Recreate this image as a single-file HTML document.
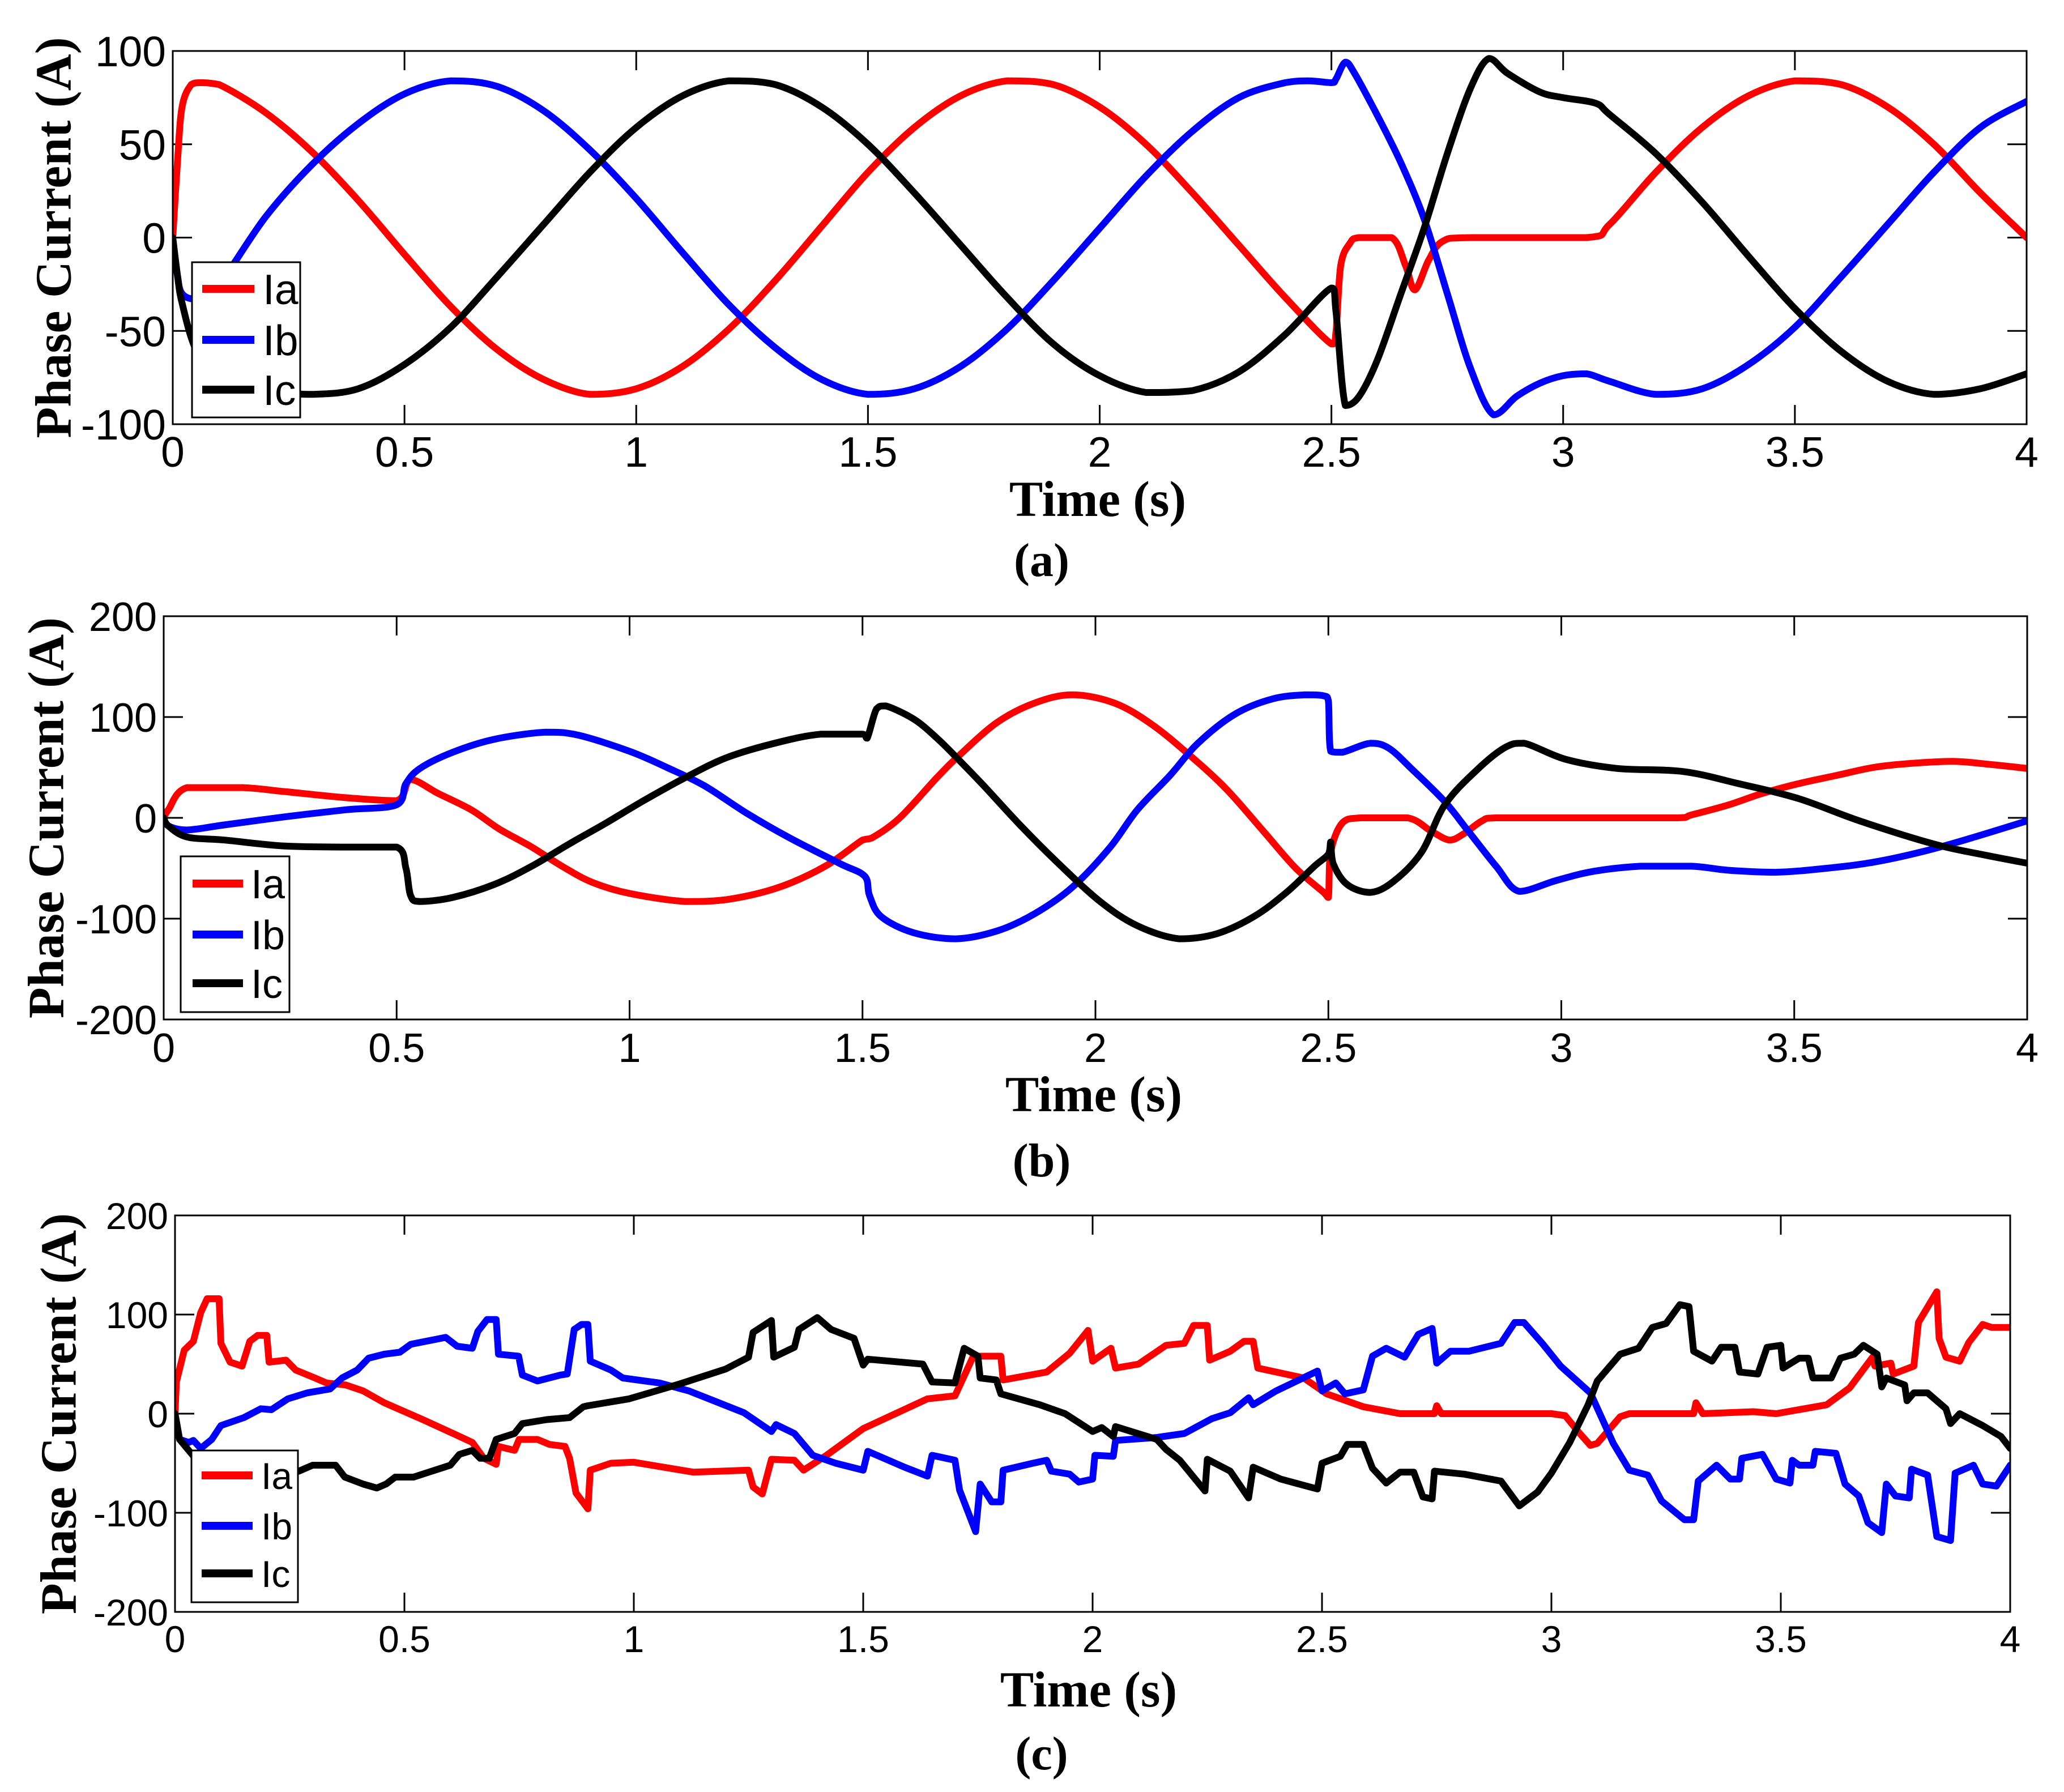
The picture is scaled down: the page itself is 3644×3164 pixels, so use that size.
<!DOCTYPE html>
<html><head><meta charset="utf-8"><style>
html,body{margin:0;padding:0;background:#fff;}
svg{display:block;}
.tk{font-family:"Liberation Sans",Arial,sans-serif;fill:#000;}
.ttl{font-family:"Liberation Serif","Times New Roman",serif;font-weight:bold;fill:#000;}
</style></head><body>
<svg id="fig" xmlns="http://www.w3.org/2000/svg" width="3644" height="3164" viewBox="0 0 3644 3164">
<rect x="0" y="0" width="3644" height="3164" fill="#fff"/>
</svg>
<script>
// ---------- Panel (a) data ----------
const aIaT=[0,0.01,0.02,0.04,0.06,0.1,0.2,0.3,0.4,0.5,0.6,0.7,0.8,0.9,1.0,1.1,1.2,1.3,1.4,1.5,1.6,1.7,1.8,1.9,2.0,2.1,2.2,2.3,2.4,2.5,2.51,2.52,2.54,2.56,2.63,2.66,2.68,2.71,2.74,2.8,3.05,3.1,3.2,3.3,3.4,3.5,3.6,3.7,3.8,3.9,4.0];
const aIaV=[0,40,70,82,83,82,67,46,20,-9,-37,-60,-76,-84,-81,-69,-49,-23,6,35,59,76,84,82,70,50,24,-4,-32,-57,-50,-15,-3,0,0,-15,-28,-12,-2,0,0,7,35,59,76,84,82,70,50,24,0];
const aIbT=[0,0.01,0.02,0.05,0.1,0.2,0.3,0.4,0.5,0.6,0.7,0.8,0.9,1.0,1.1,1.2,1.3,1.4,1.5,1.6,1.7,1.8,1.9,2.0,2.1,2.2,2.3,2.4,2.45,2.5,2.51,2.53,2.55,2.6,2.65,2.7,2.75,2.8,2.85,2.9,2.95,3.0,3.05,3.1,3.2,3.3,3.4,3.5,3.6,3.7,3.8,3.9,4.0];
const aIbV=[0,-20,-30,-33,-25,11,39,61,77,84,81,68,47,21,-8,-36,-59,-76,-84,-81,-69,-49,-23,5,33,57,75,83,84,83,85,94,88,65,40,10,-30,-70,-95,-85,-78,-74,-73,-77,-84,-81,-68,-48,-21,7,35,59,73];
const aIcT=[0,0.01,0.02,0.05,0.1,0.15,0.2,0.3,0.4,0.5,0.6,0.7,0.8,0.9,1.0,1.1,1.2,1.3,1.4,1.5,1.6,1.7,1.8,1.9,2.0,2.1,2.2,2.3,2.4,2.5,2.51,2.53,2.56,2.6,2.65,2.7,2.75,2.8,2.84,2.88,2.95,3.0,3.07,3.1,3.2,3.3,3.4,3.5,3.6,3.7,3.8,3.9,4.0];
const aIcV=[0,-20,-35,-60,-75,-82,-83,-84,-81,-68,-48,-21,7,35,59,76,84,82,70,50,24,-4,-32,-57,-74,-83,-82,-72,-52,-27,-40,-90,-85,-65,-30,5,45,80,96,88,78,75,72,66,45,19,-10,-38,-61,-77,-84,-81,-73];
const aYTicks=[100,50,0,-50,-100];
// ---------- Panel (b) data ----------
const bIaT=[0,0.01,0.05,0.17,0.26,0.39,0.5,0.53,0.59,0.66,0.72,0.79,0.855,0.92,1.0,1.12,1.21,1.32,1.42,1.5,1.52,1.58,1.66,1.71,1.79,1.87,1.95,2.04,2.12,2.2,2.28,2.36,2.43,2.49,2.5,2.505,2.53,2.57,2.67,2.72,2.76,2.79,2.83,2.86,3.25,3.28,3.36,3.43,3.51,3.59,3.67,3.75,3.84,3.92,4.0];
const bIaV=[0,8,30,30,26,20,17,38,24,8,-11,-29,-48,-64,-75,-83,-81,-69,-48,-22,-20,0,40,63,95,114,122,114,93,63,29,-13,-50,-74,-79,-34,-5,0,0,-13,-22,-16,-3,0,0,3,13,24,34,42,50,54,56,53,49];
const bIbT=[0,0.01,0.05,0.13,0.26,0.39,0.5,0.52,0.55,0.62,0.71,0.82,0.89,1.0,1.08,1.16,1.25,1.34,1.45,1.505,1.515,1.54,1.61,1.7,1.79,1.87,1.95,2.03,2.09,2.16,2.22,2.3,2.38,2.45,2.49,2.5,2.505,2.53,2.59,2.63,2.68,2.75,2.8,2.86,2.91,2.99,3.07,3.17,3.28,3.36,3.46,3.57,3.67,3.78,3.88,4.0];
const bIbV=[0,-8,-12,-7,1,8,13,34,49,65,78,85,82,66,50,32,5,-19,-45,-58,-77,-98,-114,-120,-112,-95,-69,-30,8,42,74,103,118,122,121,116,66,65,74,69,48,16,-13,-48,-73,-62,-53,-48,-48,-52,-54,-50,-44,-33,-20,-3];
const bIcT=[0,0.01,0.05,0.13,0.26,0.39,0.5,0.52,0.53,0.55,0.62,0.71,0.79,0.87,0.95,1.03,1.12,1.21,1.32,1.41,1.5,1.51,1.53,1.55,1.61,1.66,1.71,1.76,1.84,1.92,2.01,2.09,2.18,2.26,2.34,2.41,2.47,2.5,2.505,2.51,2.54,2.59,2.64,2.7,2.75,2.82,2.88,2.92,3.01,3.12,3.26,3.38,3.51,3.64,3.8,3.91,4.0];
const bIcV=[0,-8,-19,-22,-28,-29,-29,-50,-77,-83,-79,-66,-48,-26,-5,17,40,60,75,83,83,79,108,111,98,79,56,32,-8,-45,-83,-107,-120,-115,-98,-74,-48,-36,-24,-45,-66,-74,-63,-34,13,48,70,74,58,49,46,34,19,-3,-26,-37,-45];
const bYTicks=[200,100,0,-100,-200];
// ---------- Panel (c) data ----------
const cIaT=[0,0.003,0.02,0.04,0.056,0.07,0.096,0.1,0.12,0.146,0.163,0.18,0.2,0.205,0.242,0.263,0.305,0.33,0.372,0.41,0.456,0.54,0.606,0.648,0.673,0.7,0.705,0.74,0.75,0.79,0.816,0.85,0.86,0.874,0.9,0.905,0.95,1.0,1.13,1.25,1.26,1.28,1.3,1.35,1.37,1.42,1.5,1.64,1.7,1.74,1.8,1.805,1.9,1.95,1.99,2.0,2.04,2.05,2.1,2.16,2.2,2.22,2.25,2.255,2.3,2.33,2.35,2.36,2.46,2.51,2.59,2.67,2.745,2.75,2.76,3.0,3.03,3.06,3.085,3.1,3.15,3.17,3.31,3.315,3.33,3.44,3.49,3.6,3.65,3.7,3.705,3.74,3.745,3.79,3.8,3.84,3.845,3.86,3.89,3.91,3.94,3.96,4.0];
const cIaV=[0,32,64,73,102,116,116,71,52,48,73,79,79,52,54,44,36,31,29,23,11,-6,-20,-29,-45,-51,-33,-37,-26,-26,-31,-33,-45,-80,-96,-57,-50,-49,-59,-57,-74,-81,-46,-47,-57,-42,-15,15,18,58,58,34,42,61,84,53,66,46,50,69,71,89,89,54,63,73,73,46,36,20,7,0,0,8,0,0,-2,-19,-32,-30,-3,0,0,11,0,2,0,9,26,57,48,51,40,48,92,123,76,57,53,72,90,87,87];
const cIbT=[0,0.01,0.03,0.04,0.056,0.08,0.1,0.15,0.187,0.21,0.246,0.288,0.338,0.364,0.397,0.422,0.456,0.49,0.514,0.59,0.615,0.648,0.66,0.68,0.7,0.705,0.749,0.757,0.79,0.84,0.855,0.87,0.886,0.9,0.905,0.95,0.976,1.056,1.12,1.24,1.3,1.31,1.35,1.39,1.44,1.5,1.51,1.59,1.64,1.65,1.7,1.71,1.745,1.755,1.78,1.8,1.805,1.87,1.9,1.91,1.95,1.97,2.0,2.005,2.045,2.05,2.14,2.2,2.26,2.3,2.34,2.35,2.4,2.49,2.5,2.53,2.55,2.59,2.61,2.64,2.68,2.71,2.74,2.75,2.78,2.82,2.89,2.92,2.94,2.98,3.02,3.085,3.135,3.17,3.21,3.24,3.29,3.31,3.32,3.36,3.39,3.41,3.415,3.46,3.49,3.52,3.525,3.54,3.57,3.575,3.62,3.64,3.67,3.69,3.72,3.73,3.75,3.78,3.785,3.82,3.84,3.87,3.88,3.92,3.94,3.97,4.0];
const cIbV=[0,-26,-29,-27,-35,-26,-12,-4,5,4,15,21,25,36,44,56,60,62,70,77,68,66,83,95,95,60,58,39,33,39,40,85,90,90,53,44,36,31,23,1,-18,-11,-20,-42,-50,-57,-38,-54,-63,-42,-47,-77,-119,-71,-89,-89,-57,-50,-47,-58,-61,-69,-66,-42,-43,-27,-24,-20,-5,1,16,9,23,43,23,31,20,24,58,66,57,80,86,51,63,63,71,92,92,71,48,21,-30,-57,-62,-88,-107,-107,-68,-52,-66,-66,-45,-41,-66,-70,-47,-52,-52,-38,-40,-71,-83,-110,-120,-71,-83,-85,-56,-62,-124,-128,-60,-52,-71,-73,-52];
const cIcT=[0,0.01,0.037,0.06,0.1,0.2,0.27,0.3,0.35,0.37,0.41,0.44,0.46,0.48,0.52,0.56,0.6,0.62,0.648,0.665,0.685,0.7,0.74,0.757,0.81,0.86,0.89,0.9,0.99,1.1,1.2,1.25,1.26,1.3,1.305,1.35,1.36,1.4,1.43,1.48,1.5,1.51,1.63,1.65,1.7,1.72,1.75,1.755,1.79,1.8,1.885,1.94,2.0,2.02,2.045,2.05,2.14,2.16,2.19,2.245,2.25,2.3,2.34,2.35,2.41,2.49,2.5,2.54,2.555,2.59,2.61,2.64,2.67,2.7,2.72,2.74,2.745,2.81,2.89,2.93,2.97,3.0,3.04,3.08,3.1,3.15,3.19,3.22,3.25,3.28,3.3,3.31,3.35,3.37,3.4,3.41,3.45,3.47,3.5,3.505,3.54,3.56,3.57,3.61,3.63,3.66,3.68,3.71,3.72,3.73,3.77,3.775,3.79,3.82,3.86,3.87,3.89,3.94,3.98,4.0];
const cIcV=[0,-26,-41,-55,-60,-62,-58,-52,-52,-64,-71,-75,-71,-64,-64,-58,-52,-41,-37,-45,-45,-26,-20,-10,-6,-4,7,8,15,30,45,57,82,94,57,67,85,97,85,76,49,55,50,32,31,66,58,36,34,20,9,0,-18,-14,-23,-13,-26,-36,-47,-78,-46,-58,-85,-54,-66,-76,-50,-43,-31,-31,-55,-70,-59,-59,-84,-86,-58,-61,-68,-93,-79,-60,-29,9,33,60,66,87,91,110,108,63,53,67,67,42,40,67,69,46,56,56,36,36,56,60,69,60,27,36,29,13,21,21,5,-10,0,-12,-23,-35];
const cYTicks=[200,100,0,-100,-200];
const xTicks=[0,0.5,1,1.5,2,2.5,3,3.5,4];
const xTickLabels=["0","0.5","1","1.5","2","2.5","3","3.5","4"];
const seriesNames=["Ia","Ib","Ic"];
const seriesColors=["#ff0000","#0000ff","#000000"];

const NS="http://www.w3.org/2000/svg";
const fig=document.getElementById('fig');
function mk(tag,attrs,parent){const e=document.createElementNS(NS,tag);for(const k in attrs)e.setAttribute(k,attrs[k]);(parent||fig).appendChild(e);return e;}

function smoothPath(P){
  let d='M'+P[0][0].toFixed(1)+','+P[0][1].toFixed(1);
  const clamp=(v,a,b)=>Math.max(Math.min(a,b),Math.min(Math.max(a,b),v));
  for(let i=0;i<P.length-1;i++){
    const p0=P[Math.max(0,i-1)],p1=P[i],p2=P[i+1],p3=P[Math.min(P.length-1,i+2)];
    let c1x=p1[0]+(p2[0]-p0[0])/6,c1y=p1[1]+(p2[1]-p0[1])/6;
    let c2x=p2[0]-(p3[0]-p1[0])/6,c2y=p2[1]-(p3[1]-p1[1])/6;
    c1x=clamp(c1x,p1[0],p2[0]);c2x=clamp(c2x,p1[0],p2[0]);
    c1y=clamp(c1y,p1[1],p2[1]);c2y=clamp(c2y,p1[1],p2[1]);
    d+=`C${c1x.toFixed(1)},${c1y.toFixed(1)} ${c2x.toFixed(1)},${c2y.toFixed(1)} ${p2[0].toFixed(1)},${p2[1].toFixed(1)}`;
  }
  return d;
}

const panels=[
 {id:'a',L:305,R:3578,T:90,B:749,ymin:-100,ymax:100,yt:aYTicks,fs:75,tickBase:824,ylx:95,timeX:1938,timeY:911,capY:1017,smooth:true,
  series:[[aIaT,aIaV],[aIbT,aIbV],[aIcT,aIcV]],leg:{x:339,y:463,w:191,h:274,l1:357,l2:449,tx:464,rows:[510,600,688]}},
 {id:'b',L:289,R:3579,T:1088,B:1800,ymin:-200,ymax:200,yt:bYTicks,fs:72,tickBase:1875,ylx:82,timeX:1931,timeY:1962,capY:2077,smooth:true,
  series:[[bIaT,bIaV],[bIbT,bIbV],[bIcT,bIcV]],leg:{x:319,y:1512,w:192,h:275,l1:340,l2:429,tx:443,rows:[1560,1650,1736]}},
 {id:'c',L:309,R:3549,T:2146,B:2846,ymin:-200,ymax:200,yt:cYTicks,fs:66,tickBase:2917,ylx:104,timeX:1922,timeY:3013,capY:3124,smooth:false,
  series:[[cIaT,cIaV],[cIbT,cIbV],[cIcT,cIcV]],leg:{x:338,y:2561,w:188,h:268,l1:356,l2:446,tx:461,rows:[2605,2694,2778]}}
];

panels.forEach(p=>{
  const sx=t=>p.L+(t-0)/(4-0)*(p.R-p.L);
  const sy=v=>p.B-(v-p.ymin)/(p.ymax-p.ymin)*(p.B-p.T);
  const g=mk('g',{});
  
  
  const cp=mk('clipPath',{id:'clip'+p.id},g);
  mk('rect',{x:p.L,y:p.T,width:p.R-p.L,height:p.B-p.T},cp);
  const tl=34;
  xTicks.forEach((t,i)=>{
    const x=sx(t);
    const tk=mk('path',{d:`M${x},${p.B}V${p.B-tl}M${x},${p.T}V${p.T+tl}`,stroke:'#000','stroke-width':3},g);
    
    
    const lb=mk('text',{x:x,y:p.tickBase,'text-anchor':'middle','font-size':p.fs,class:'tk'},g);
    
    
    lb.textContent=xTickLabels[i];
  });
  p.yt.forEach(v=>{
    const y=sy(v);
    const tk=mk('path',{d:`M${p.L},${y}H${p.L+tl}M${p.R},${y}H${p.R-tl}`,stroke:'#000','stroke-width':3},g);
    
    
    const lb=mk('text',{x:p.L-12,y:y+p.fs*0.36,'text-anchor':'end','font-size':p.fs,class:'tk'},g);
    
    
    lb.textContent=String(v);
  });
  p.series.forEach((s,k)=>{
    const [T,V]=s;
    const pts=T.map((t,i)=>[sx(t),sy(V[i])]);
    let d;
    if(p.smooth){d=smoothPath(pts);}
    else{d='';pts.forEach((q,i)=>{d+=(i?'L':'M')+q[0].toFixed(1)+','+q[1].toFixed(1);});}
    const pl=mk('path',{d:d,fill:'none',stroke:seriesColors[k],'stroke-width':12,'stroke-linejoin':'round','stroke-linecap':'round','clip-path':`url(#clip${p.id})`},g);
    
    
  });
  const fr=mk('rect',{x:p.L,y:p.T,width:p.R-p.L,height:p.B-p.T,fill:'none',stroke:'#000','stroke-width':3},g);
  
  
  const lg=mk('g',{},g);
  
  
  mk('rect',{x:p.leg.x,y:p.leg.y,width:p.leg.w,height:p.leg.h,fill:'#fff',stroke:'#000','stroke-width':3},lg);
  seriesNames.forEach((n,k)=>{
    const ry=p.leg.rows[k];
    const en=mk('g',{},lg);
    
    
    mk('line',{x1:p.leg.l1,x2:p.leg.l2,y1:ry,y2:ry,stroke:seriesColors[k],'stroke-width':14},en);
    const tx=mk('text',{x:p.leg.tx,y:ry+p.fs*0.36,'font-size':p.fs,class:'tk'},en);
    tx.textContent=n;
  });
  const yl=mk('text',{x:p.ylx,y:(p.T+p.B)/2,'text-anchor':'middle','dominant-baseline':'central','font-size':90,class:'ttl',transform:`rotate(-90 ${p.ylx} ${(p.T+p.B)/2})`},g);
  
  
  yl.textContent='Phase Current (A)';
  const xl=mk('text',{x:p.timeX,y:p.timeY,'text-anchor':'middle','font-size':89,class:'ttl'},g);
  
  
  xl.textContent='Time (s)';
  const cap=mk('text',{x:1839,y:p.capY,'text-anchor':'middle','font-size':84,class:'ttl'},g);
  
  
  cap.textContent='('+p.id+')';
});
</script>
</body></html>
